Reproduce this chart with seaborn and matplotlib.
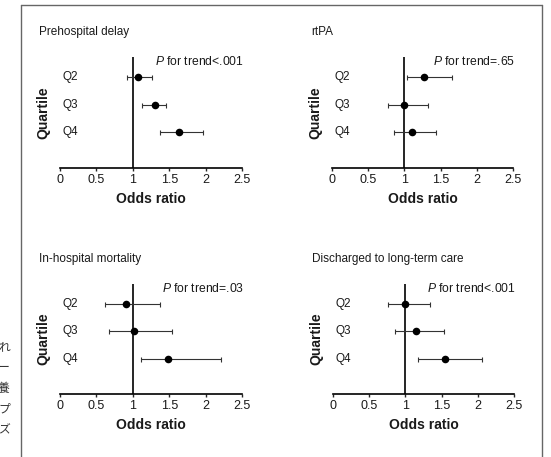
import numpy as np
import pandas as pd
import matplotlib
matplotlib.use("Agg")
import matplotlib.pyplot as plt
from matplotlib.lines import Line2D
import seaborn as sns

# values (odds ratio with 95% CI), quartiles Q2-Q4
quartiles = ["Q2", "Q3", "Q4"]
titles = ["Prehospital delay", "rtPA", "In-hospital mortality", "Discharged to long-term care"]
p_texts = ["<.001", "=.65", "=.03", "<.001"]

prehosp_or = [1.07, 1.31, 1.63]
prehosp_lo = [0.92, 1.13, 1.37]
prehosp_hi = [1.26, 1.45, 1.96]

rtpa_or = [1.27, 1.00, 1.10]
rtpa_lo = [1.03, 0.78, 0.86]
rtpa_hi = [1.66, 1.33, 1.44]

mort_or = [0.91, 1.01, 1.49]
mort_lo = [0.62, 0.67, 1.11]
mort_hi = [1.38, 1.54, 2.21]

ltc_or = [0.99, 1.14, 1.55]
ltc_lo = [0.76, 0.86, 1.17]
ltc_hi = [1.34, 1.54, 2.06]

xticks = [0, 0.5, 1, 1.5, 2, 2.5]
xtick_labels = ["0", "0.5", "1", "1.5", "2", "2.5"]

side_chars = ["れ", "ー", "養", "プ", "ズ"]

sns.set_style("white")
plt.rcParams["font.family"] = ["Liberation Sans", "DejaVu Sans"]
plt.rcParams["mathtext.fontset"] = "custom"
plt.rcParams["mathtext.it"] = "Liberation Sans:italic"
plt.rcParams["mathtext.rm"] = "Liberation Sans"

W, H = 551, 457
fig = plt.figure(figsize=(W / 100, H / 100), dpi=100)

# axes boxes in pixels: left, right, top, bottom
boxes = [(60, 242, 57, 168), (332, 513, 57, 168),
         (60, 242, 284, 394), (333, 514, 284, 394)]
series = [(prehosp_or, prehosp_lo, prehosp_hi),
          (rtpa_or, rtpa_lo, rtpa_hi),
          (mort_or, mort_lo, mort_hi),
          (ltc_or, ltc_lo, ltc_hi)]

txt = "#1a1a1a"
for (l, r, t, b), (est, lo, hi), title, ptxt in zip(boxes, series, titles, p_texts):
    ax = fig.add_axes([l / W, 1 - b / H, (r - l) / W, (b - t) / H])
    df = pd.DataFrame({"quartile": quartiles, "pos": np.arange(1, 4),
                       "est": est, "lo": lo, "hi": hi})
    ax.errorbar(df["est"], df["pos"],
                xerr=[df["est"] - df["lo"], df["hi"] - df["est"]],
                fmt="none", ecolor="#333333", elinewidth=0.8, capsize=1.8, capthick=0.8, zorder=2)
    sns.scatterplot(data=df, x="est", y="pos", color="black", s=30,
                    edgecolor="black", linewidth=0, ax=ax, zorder=3)
    ax.axvline(1, color="black", lw=1.2, zorder=1)
    ax.set_xlim(0, 2.5)
    ax.set_ylim(4.3, 0.27)
    ax.set_xticks(xticks)
    ax.set_xticklabels(xtick_labels, fontsize=9, color=txt)
    ax.set_yticks([])
    for s in ["top", "right", "left"]:
        ax.spines[s].set_visible(False)
    ax.spines["bottom"].set_linewidth(1.2)
    ax.spines["bottom"].set_color("black")
    ax.tick_params(axis="x", direction="out", length=2.5, width=1, pad=2, bottom=True)
    ax.set_xlabel("Odds ratio", fontsize=10, fontweight="bold", color=txt, labelpad=4)
    ax.set_ylabel("Quartile", fontsize=10, fontweight="bold", color=txt)
    ax.yaxis.set_label_coords(-0.055, 0.5)
    for q, p in zip(df["quartile"], df["pos"]):
        ax.text(0.04, p, q, fontsize=8.5, color=txt, ha="left", va="center")
    ax.text(2.53, 0.42, r"$\it{P}$ for trend" + ptxt, fontsize=8.7, color=txt,
            ha="right", va="center")
    ax.text(-0.115, 1.225, title, transform=ax.transAxes, fontsize=8.5,
            color=txt, ha="left", va="center")

# page border
bc = "#666666"
fig.add_artist(Line2D([21 / W, 21 / W], [0, 1 - 5 / H], color=bc, lw=1))
fig.add_artist(Line2D([21 / W, 542 / W], [1 - 5 / H, 1 - 5 / H], color=bc, lw=1))
fig.add_artist(Line2D([542 / W, 542 / W], [0, 1 - 5 / H], color=bc, lw=1))

# cut-off text from the neighbouring column of the page
for i, ch in enumerate(side_chars):
    fig.text(-2 / W, 1 - (347 + 20.7 * i) / H, ch, fontsize=8.5, color="#333333",
             family=["Noto Sans CJK JP", "DejaVu Sans"], ha="left", va="center")

fig.savefig("out.png", dpi=100)
